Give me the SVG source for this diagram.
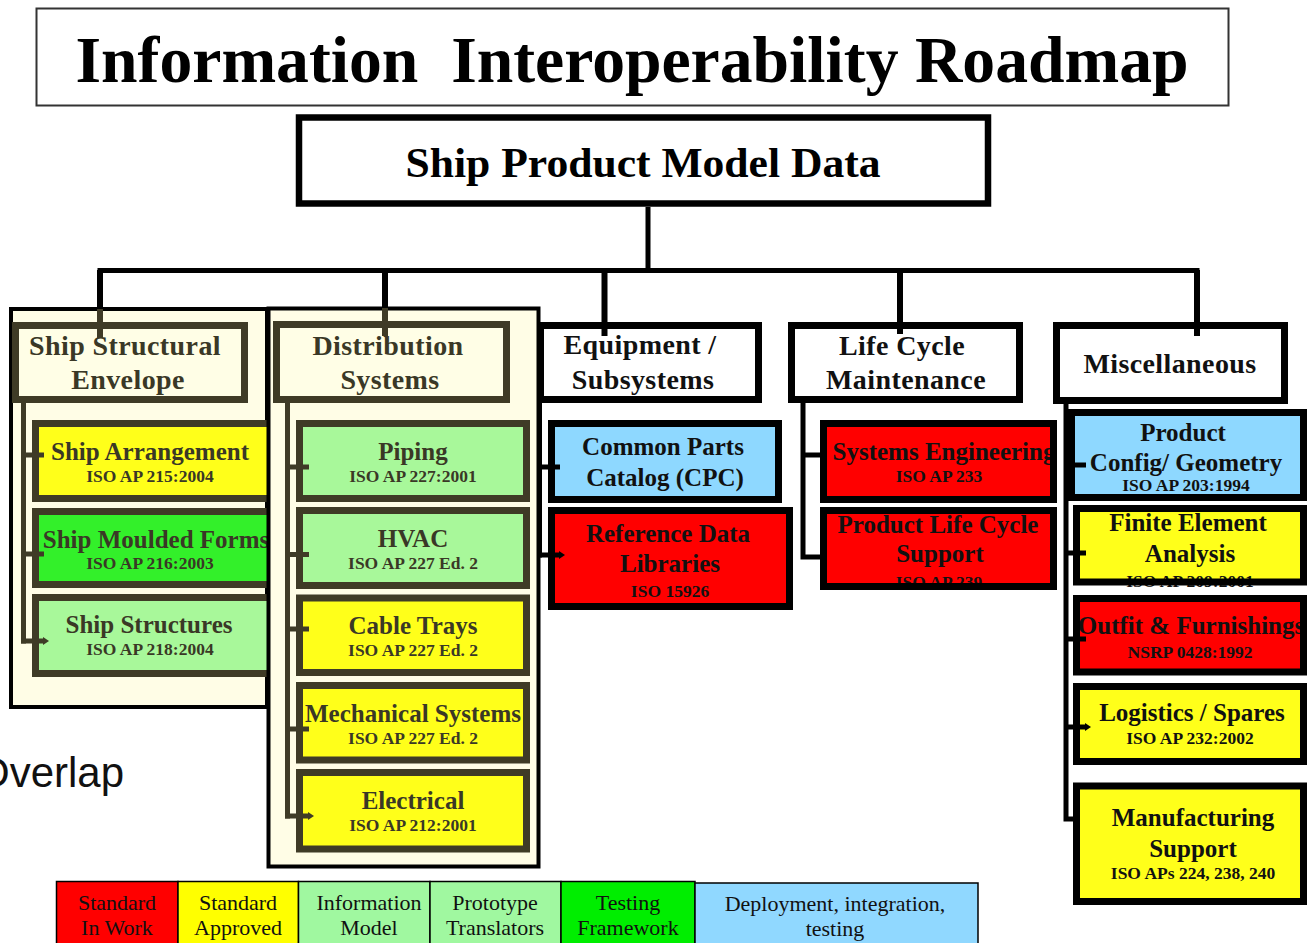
<svg xmlns="http://www.w3.org/2000/svg" width="1307" height="943" viewBox="0 0 1307 943">
<defs>
<style>
text{font-family:"Liberation Serif","Times New Roman",serif;text-anchor:middle}
.title{font-size:66px;font-weight:bold;fill:#000;white-space:pre}
.root{font-size:42px;font-weight:bold;fill:#000}
.th{font-size:28px;font-weight:bold;letter-spacing:0.4px}
.t1{font-size:25px;font-weight:bold}
.t2{font-size:17.5px;font-weight:bold}
.ol{fill:#3a3826}
.bk{fill:#111}
.panel{fill:#FFFDE6;stroke:#000;stroke-width:4}
.hol{fill:#FFFEE6;stroke:#3F3B26;stroke-width:7}
.hbk{fill:#fff;stroke:#000;stroke-width:7}
.bol{fill:none;stroke:#3F3B26;stroke-width:7}
.bbk{fill:none;stroke:#000;stroke-width:7}
.yel{fill:#FFFF1A}.red{fill:#FF0000}.lg{fill:#A8F89A}.bg{fill:#33F02A}.lb{fill:#8ED8FF}
.cbk{stroke:#000;fill:none}
.col{stroke:#3F3B26;fill:none}
.lgd rect{stroke:#000;stroke-width:1.5}
.lgd text{font-size:22px;fill:#111}
</style>
<marker id="nubOl" markerWidth="6" markerHeight="8" refX="1" refY="4" orient="auto" markerUnits="userSpaceOnUse"><path d="M0,0 L6,4 L0,8 Z" fill="#3F3B26"/></marker>
<marker id="nubBk" markerWidth="6" markerHeight="8" refX="1" refY="4" orient="auto" markerUnits="userSpaceOnUse"><path d="M0,0 L6,4 L0,8 Z" fill="#000"/></marker>
</defs>
<rect width="1307" height="943" fill="#fff"/>

<g id="title">
<rect x="36.5" y="8.5" width="1192" height="97" fill="#fff" stroke="#333" stroke-width="2"/>
<text class="title" x="632" y="82" textLength="1113" lengthAdjust="spacingAndGlyphs">Information  Interoperability Roadmap</text>
</g>

<g id="ship-product-model-data">
<rect x="299" y="117.5" width="689" height="86" fill="#fff" stroke="#000" stroke-width="6.5"/>
<text class="root" x="643" y="177" textLength="475" lengthAdjust="spacingAndGlyphs">Ship Product Model Data</text>
</g>

<g id="panel-ship-structural">
<rect class="panel" x="11" y="309" width="256" height="398"/>
</g>
<g id="ship-structural-envelope">
<rect class="hol" x="15.5" y="325.5" width="229" height="74"/>
<text class="th ol" x="125" y="355">Ship Structural</text>
<text class="th ol" x="128" y="389">Envelope</text>
</g>
<g id="ship-arrangement">
<rect class="yel" x="35.5" y="423.5" width="241" height="75"/>
<text class="t1 ol" x="150" y="460">Ship Arrangement</text>
<text class="t2 ol" x="150" y="482">ISO AP 215:2004</text>
<rect class="bol" x="35.5" y="423.5" width="241" height="75"/>
</g>
<g id="ship-moulded-forms">
<rect class="bg" x="35.5" y="511.5" width="241" height="73"/>
<text class="t1 ol" x="156" y="548">Ship Moulded Forms</text>
<text class="t2 ol" x="150" y="569">ISO AP 216:2003</text>
<rect class="bol" x="35.5" y="511.5" width="241" height="73"/>
</g>
<g id="ship-structures">
<rect class="lg" x="35.5" y="597.5" width="241" height="76"/>
<text class="t1 ol" x="149" y="633">Ship Structures</text>
<text class="t2 ol" x="150" y="655">ISO AP 218:2004</text>
<rect class="bol" x="35.5" y="597.5" width="241" height="76"/>
</g>

<g id="panel-distribution">
<rect class="panel" x="268.5" y="308.5" width="270" height="558"/>
</g>
<g id="distribution-systems">
<rect class="hol" x="276.5" y="324.5" width="230" height="75"/>
<text class="th ol" x="388" y="355">Distribution</text>
<text class="th ol" x="390" y="389">Systems</text>
</g>
<g id="piping">
<rect class="lg" x="299.5" y="423.5" width="227" height="75"/>
<text class="t1 ol" x="413" y="460">Piping</text>
<text class="t2 ol" x="413" y="482">ISO AP 227:2001</text>
<rect class="bol" x="299.5" y="423.5" width="227" height="75"/>
</g>
<g id="hvac">
<rect class="lg" x="299.5" y="510.5" width="227" height="75"/>
<text class="t1 ol" x="413" y="547">HVAC</text>
<text class="t2 ol" x="413" y="569">ISO AP 227 Ed. 2</text>
<rect class="bol" x="299.5" y="510.5" width="227" height="75"/>
</g>
<g id="cable-trays">
<rect class="yel" x="299.5" y="598" width="227" height="74.5"/>
<text class="t1 ol" x="413" y="634">Cable Trays</text>
<text class="t2 ol" x="413" y="656">ISO AP 227 Ed. 2</text>
<rect class="bol" x="299.5" y="598" width="227" height="74.5"/>
</g>
<g id="mechanical-systems">
<rect class="yel" x="299.5" y="685.5" width="227" height="74.5"/>
<text class="t1 ol" x="413" y="722">Mechanical Systems</text>
<text class="t2 ol" x="413" y="744">ISO AP 227 Ed. 2</text>
<rect class="bol" x="299.5" y="685.5" width="227" height="74.5"/>
</g>
<g id="electrical">
<rect class="yel" x="299.5" y="772.5" width="227" height="76.5"/>
<text class="t1 ol" x="413" y="809">Electrical</text>
<text class="t2 ol" x="413" y="831">ISO AP 212:2001</text>
<rect class="bol" x="299.5" y="772.5" width="227" height="76.5"/>
</g>

<g id="equipment-subsystems">
<rect class="hbk" x="540.5" y="325.5" width="218" height="74"/>
<text class="th bk" x="640" y="354">Equipment /</text>
<text class="th bk" x="643" y="389">Subsystems</text>
</g>
<g id="common-parts-catalog">
<rect class="lb" x="551.5" y="423.5" width="227" height="76"/>
<text class="t1 bk" x="663" y="455">Common Parts</text>
<text class="t1 bk" x="665" y="486">Catalog (CPC)</text>
<rect class="bbk" x="551.5" y="423.5" width="227" height="76"/>
</g>
<g id="reference-data-libraries">
<rect class="red" x="551.5" y="510.5" width="238" height="96"/>
<text class="t1 bk" x="668" y="542">Reference Data</text>
<text class="t1 bk" x="670" y="572">Libraries</text>
<text class="t2 bk" x="670" y="597">ISO 15926</text>
<rect class="bbk" x="551.5" y="510.5" width="238" height="96"/>
</g>

<g id="life-cycle-maintenance">
<rect class="hbk" x="791.5" y="325.5" width="228" height="74"/>
<text class="th bk" x="902" y="355">Life Cycle</text>
<text class="th bk" x="906" y="389">Maintenance</text>
</g>
<g id="systems-engineering">
<rect class="red" x="823.5" y="423.5" width="230" height="76"/>
<text class="t1 bk" x="944" y="460">Systems Engineering</text>
<text class="t2 bk" x="939" y="482">ISO AP 233</text>
<rect class="bbk" x="823.5" y="423.5" width="230" height="76"/>
</g>
<g id="product-life-cycle-support">
<rect class="red" x="823.5" y="510.5" width="230" height="76"/>
<text class="t1 bk" x="938" y="533">Product Life Cycle</text>
<text class="t1 bk" x="940" y="562">Support</text>
<text class="t2 bk" x="939" y="588">ISO AP 239</text>
<rect class="bbk" x="823.5" y="510.5" width="230" height="76"/>
</g>

<g id="miscellaneous">
<rect class="hbk" x="1056.5" y="325.5" width="228" height="75"/>
<text class="th bk" x="1170" y="373">Miscellaneous</text>
</g>
<g id="product-config-geometry">
<rect class="lb" x="1071.5" y="412.5" width="232" height="85"/>
<text class="t1 bk" x="1183" y="441">Product</text>
<text class="t1 bk" x="1186" y="471">Config/ Geometry</text>
<text class="t2 bk" x="1186" y="491">ISO AP 203:1994</text>
<rect class="bbk" x="1071.5" y="412.5" width="232" height="85"/>
</g>
<g id="finite-element-analysis">
<rect class="yel" x="1076.5" y="508.5" width="227" height="73.5"/>
<text class="t1 bk" x="1188" y="531">Finite Element</text>
<text class="t1 bk" x="1190" y="562">Analysis</text>
<text class="t2 bk" x="1190" y="587">ISO AP 209:2001</text>
<rect class="bbk" x="1076.5" y="508.5" width="227" height="73.5"/>
</g>
<g id="outfit-furnishings">
<rect class="red" x="1076.5" y="598.5" width="227" height="73.5"/>
<text class="t1 bk" x="1191" y="634">Outfit &amp; Furnishings</text>
<text class="t2 bk" x="1190" y="658">NSRP 0428:1992</text>
<rect class="bbk" x="1076.5" y="598.5" width="227" height="73.5"/>
</g>
<g id="logistics-spares">
<rect class="yel" x="1076.5" y="686.5" width="227" height="75"/>
<text class="t1 bk" x="1192" y="721">Logistics / Spares</text>
<text class="t2 bk" x="1190" y="744">ISO AP 232:2002</text>
<rect class="bbk" x="1076.5" y="686.5" width="227" height="75"/>
</g>
<g id="manufacturing-support">
<rect class="yel" x="1076.5" y="786" width="227" height="115.5"/>
<text class="t1 bk" x="1193" y="826">Manufacturing</text>
<text class="t1 bk" x="1193" y="857">Support</text>
<text class="t2 bk" x="1193" y="879">ISO APs 224, 238, 240</text>
<rect class="bbk" x="1076.5" y="786" width="227" height="115.5"/>
</g>

<g id="connectors">
<path class="cbk" stroke-width="5" d="M648,207 V270.5 M97.5,270.5 H1199.5"/>
<path class="cbk" stroke-width="6" d="M100,270 V309 M385,270 V308 M604.5,270 V336 M900,270 V334 M1197,270 V336"/>
<path class="col" stroke-width="6" d="M100,309 V338 M385,308 V336"/>
<path class="col" stroke-width="5" d="M23.5,403 V643.5"/>
<path class="col" stroke-width="5" marker-end="url(#nubOl)" d="M23.5,455 H44 M23.5,554 H44 M21,641 H44"/>
<path class="col" stroke-width="5" d="M287.5,403 V818.5"/>
<path class="col" stroke-width="5" marker-end="url(#nubOl)" d="M287.5,467 H309 M287.5,554.5 H309 M287.5,629 H309 M287.5,729 H309 M285,816 H309"/>
<path class="cbk" stroke-width="5" d="M539.5,403 V557.5"/>
<path class="cbk" stroke-width="5" marker-end="url(#nubBk)" d="M539.5,467 H560 M537,555 H560"/>
<path class="cbk" stroke-width="5" d="M803,403 V557 H822 M803,455 H822"/>
<path class="cbk" stroke-width="5" d="M1066,404 V819 H1075"/>
<path class="cbk" stroke-width="5" marker-end="url(#nubBk)" d="M1066,465 H1086 M1066,553 H1086 M1066,639 H1086 M1066,727 H1086"/>
</g>

<text x="-23" y="787" style="font-family:'Liberation Sans',Arial,sans-serif;font-size:42px;text-anchor:start;fill:#111">Overlap</text>

<g id="legend" class="lgd">
<rect x="56.5" y="881.5" width="121.5" height="70" fill="#FF0000"/>
<rect x="178" y="881.5" width="120.5" height="70" fill="#FFFF00"/>
<rect x="298.5" y="881.5" width="131.5" height="70" fill="#A0F8A0"/>
<rect x="430" y="881.5" width="131" height="70" fill="#A0F8A0"/>
<rect x="561" y="881.5" width="134" height="70" fill="#00EE00"/>
<rect x="695" y="883" width="283" height="70" fill="#90D8FF"/>
<text x="117" y="910">Standard</text><text x="117" y="935">In Work</text>
<text x="238" y="910">Standard</text><text x="238" y="935">Approved</text>
<text x="369" y="910">Information</text><text x="369" y="935">Model</text>
<text x="495" y="910">Prototype</text><text x="495" y="935">Translators</text>
<text x="628" y="910">Testing</text><text x="628" y="935">Framework</text>
<text x="835" y="911">Deployment, integration,</text><text x="835" y="936">testing</text>
</g>
</svg>
